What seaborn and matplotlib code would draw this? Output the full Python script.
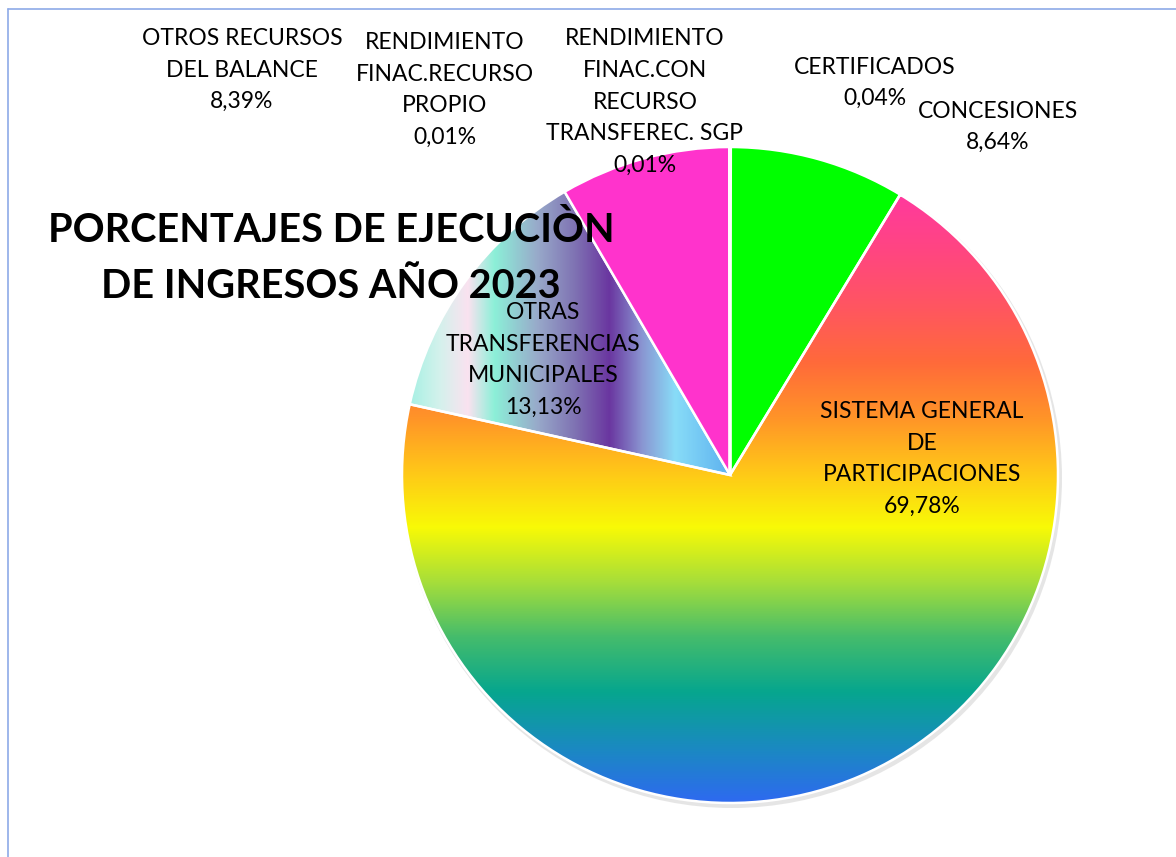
import numpy as np
import matplotlib
matplotlib.use("Agg")
import matplotlib.pyplot as plt
import seaborn as sns
from matplotlib.colors import LinearSegmentedColormap
from matplotlib.patches import Circle
from matplotlib.lines import Line2D

# datos del grafico
categorias = [
    "CERTIFICADOS",
    "CONCESIONES",
    "SISTEMA GENERAL\nDE\nPARTICIPACIONES",
    "OTRAS\nTRANSFERENCIAS\nMUNICIPALES",
    "OTROS RECURSOS\nDEL BALANCE",
    "RENDIMIENTO\nFINAC.RECURSO\nPROPIO",
    "RENDIMIENTO\nFINAC.CON\nRECURSO\nTRANSFEREC. SGP",
]
porcentajes = [0.04, 8.64, 69.78, 13.13, 8.39, 0.01, 0.01]
titulo = "PORCENTAJES DE EJECUCIÒN\nDE INGRESOS AÑO 2023"

# posiciones de las etiquetas (pixeles de la imagen)
pos_etiquetas = [(875, 83), (998, 127), (922, 459), (543, 360),
                 (242, 70), (445, 90), (645, 102)]

colores = ["#E8E8E8", "#00FF00", "none", "none", "#FF33CC", "#DDDDDD", "#CCCCCC"]

W, H = 1176, 857
CX, CY, R = 730, H - 475, 328

sns.set_theme(style="white")
plt.rcParams["font.family"] = ["Lato", "DejaVu Sans"]

fig = plt.figure(figsize=(W / 100, H / 100), dpi=100)
ax = fig.add_axes([0, 0, 1, 1])

# sombra suave
ax.add_patch(Circle((CX + 2, CY - 3), R + 2, color="#9a9a9a", alpha=0.25, lw=0, zorder=0))

wedges, _ = ax.pie(porcentajes, colors=colores, startangle=90, counterclock=False,
                   center=(CX, CY), radius=R,
                   wedgeprops=dict(edgecolor="white", linewidth=1.8))
for w in wedges:
    w.set_zorder(3)

# degradado vertical del SGP
sgp_cmap = sns.blend_palette(
    ["#FF3A9C", "#FF4680", "#FF5660", "#FF6A3A", "#FF9428", "#FFC818",
     "#F8FA06", "#A6DE3A", "#44BC6C", "#06A68E", "#1A8AC0", "#2E6AF0"],
    as_cmap=True)
grad_v = np.linspace(0, 1, 256).reshape(-1, 1)
im1 = ax.imshow(grad_v, cmap=sgp_cmap, aspect="auto", zorder=2,
                extent=(CX - R, CX + R, H - 803, H - 197), origin="upper")
im1.set_clip_path(wedges[2])

# degradado horizontal de otras transferencias
trans_cmap = LinearSegmentedColormap.from_list("trans", [
    (0.00, "#A0F0E2"), (0.10, "#D2F2EC"), (0.19, "#FAE2F0"), (0.27, "#8CF0D8"),
    (0.40, "#98AACA"), (0.52, "#7E70B2"), (0.62, "#6A36A0"), (0.72, "#8A96D2"),
    (0.82, "#88DCF8"), (1.00, "#5AAEEE")])
grad_h = np.linspace(0, 1, 256).reshape(1, -1)
im2 = ax.imshow(grad_h, cmap=trans_cmap, aspect="auto", zorder=2,
                extent=(405, 735, H - 480, H - 180))
im2.set_clip_path(wedges[3])

ax.set_xlim(0, W)
ax.set_ylim(0, H)
ax.axis("off")

# etiquetas
for cat, val, (x, y) in zip(categorias, porcentajes, pos_etiquetas):
    txt = cat + "\n" + f"{val:.2f}".replace(".", ",") + "%"
    ax.text(x, H - y, txt, ha="center", va="center", fontsize=16.5,
            linespacing=1.62, color="black", zorder=5)

ax.text(331, H - 258, titulo, ha="center", va="center", fontsize=28.5,
        fontweight="bold", linespacing=1.65, color="black", zorder=6)

# marco azul
fig.add_artist(Line2D([8 / W, 1], [1 - 9 / H, 1 - 9 / H], color="#8EAAE8", lw=1.2))
fig.add_artist(Line2D([8 / W, 8 / W], [0, 1 - 9 / H], color="#8EAAE8", lw=1.2))

fig.savefig("out.png", dpi=100, facecolor="white")
